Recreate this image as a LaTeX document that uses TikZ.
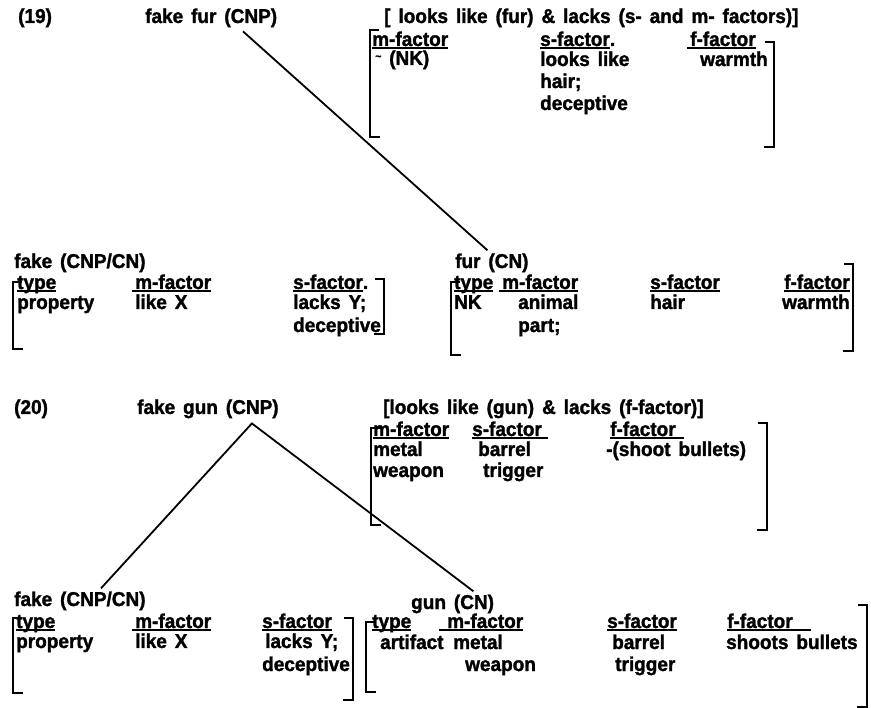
\documentclass[tikz,border=0pt]{standalone}
\usepackage{fontspec}
\setmainfont{Liberation Sans}[FakeStretch=0.95, WordSpace=1.5, BoldFeatures={FakeBold=1.5}]
\usetikzlibrary{calc}
\newcommand\ufx[3]{\setbox0\hbox{#3}\hskip-#1\rlap{\rule[-3pt]{\dimexpr\wd0+#1+#2\relax}{1.8pt}}\hskip#1\box0}
\newcommand\ufac[1]{\ufx{0pt}{0pt}{#1}}
\newcommand\lbrk[3]{\draw[brk] (#1+9,#2) -- (#1,#2) -- (#1,#3) -- (#1+10,#3);}
\newcommand\rbrk[3]{\draw[brk] (#1-9,#2) -- (#1,#2) -- (#1,#3) -- (#1-10,#3);}
\tikzset{
  txt/.style={anchor=base west, inner sep=0pt, font=\fontsize{20}{22}\selectfont\bfseries},
  brk/.style={line width=1.6pt},
  tree/.style={line width=1.8pt}
}
\begin{document}
\begin{tikzpicture}[x=1pt,y=-1pt]
\useasboundingbox[fill=white] (0,0) rectangle (871,708);
% ---------- (19)
\node[txt] (n19) at (18,23) {(19)};
\node[txt] (fakefur) at (145,23) {fake fur (CNP)};
\node[txt] (hdr19) at (384,23) {[ looks like (fur) \& lacks (s- and m- factors)]};
\lbrk{370}{30}{137}
\rbrk{774}{42}{147}
\node[txt] (tm1) at (372,46) {\ufac{m-factor}};
\node[txt] (tm2) at (375,65) {{\fontsize{11}{11}\selectfont\raisebox{5pt}{\textasciitilde}} (NK)};
\node[txt] (ts1) at (540,46) {\ufac{s-factor}.};
\node[txt] (ts2) at (540,66) {looks like};
\node[txt] (ts3) at (540,88) {hair;};
\node[txt] (ts4) at (540,110) {deceptive};
\node[txt] (tf1) at (690,46) {\ufx{3pt}{0pt}{f-factor}};
\node[txt] (tf2) at (700,66) {warmth};
% fake (CNP/CN) box 19
\node[txt] (fake19) at (14,268) {fake (CNP/CN)};
\lbrk{13}{282}{349}
\rbrk{384}{279}{334}
\node[txt] (f19type) at (17,289) {\ufac{type}};
\node[txt] (f19prop) at (17,309) {property};
\node[txt] (f19m) at (135,289) {\ufx{3pt}{0pt}{m-factor}};
\node[txt] (f19like) at (135,309) {like X};
\node[txt] (f19s) at (293,289) {\ufac{s-factor}.};
\node[txt] (f19lacks) at (293,309) {lacks Y;};
\node[txt] (f19dec) at (293,332) {deceptive};
% fur (CN) box
\node[txt] (fur19) at (455,268) {fur (CN)};
\lbrk{451}{282}{355}
\rbrk{853}{264}{351}
\node[txt] (u19type) at (454,289) {\ufac{type}};
\node[txt] (u19nk) at (454,309) {NK};
\node[txt] (u19m) at (502,289) {\ufx{3pt}{0pt}{m-factor}};
\node[txt] (u19anim) at (518,309) {animal};
\node[txt] (u19part) at (518,332) {part;};
\node[txt] (u19s) at (650,289) {\ufac{s-factor}};
\node[txt] (u19hair) at (650,309) {hair};
\node[txt] (u19f) at (784,289) {\ufac{f-factor}};
\node[txt] (u19warm) at (782,309) {warmth};
\draw[tree] ($(fakefur.south west)!0.74!(fakefur.south east)+(0,4)$) -- ($(fur19.north west)!0.44!(fur19.north east)+(0,-3)$);
% ---------- (20)
\node[txt] (n20) at (14,414) {(20)};
\node[txt] (fakegun) at (137,414) {fake gun (CNP)};
\node[txt] (hdr20) at (383,414) {[looks like (gun) \& lacks (f-factor)]};
\lbrk{371}{428}{525}
\rbrk{767}{423}{530}
\node[txt] (g20m) at (373,436) {\ufac{m-factor}};
\node[txt] (g20metal) at (373,456) {metal};
\node[txt] (g20weapon) at (373,477) {weapon};
\node[txt] (g20s) at (472,436) {\ufx{0pt}{6pt}{s-factor}};
\node[txt] (g20barrel) at (478,456) {barrel};
\node[txt] (g20trig) at (483,477) {trigger};
\node[txt] (g20f) at (610,436) {\ufx{0pt}{8pt}{f-factor}};
\node[txt] (g20shoot) at (606,456) {-(shoot bullets)};
% fake box 20
\node[txt] (fake20) at (14,606) {fake (CNP/CN)};
\lbrk{13}{618}{693}
\rbrk{353}{618}{700}
\node[txt] (h20type) at (16,628) {\ufac{type}};
\node[txt] (h20prop) at (16,648) {property};
\node[txt] (h20m) at (135,628) {\ufx{3pt}{0pt}{m-factor}};
\node[txt] (h20like) at (135,648) {like X};
\node[txt] (h20s) at (262,628) {\ufac{s-factor}};
\node[txt] (h20lacks) at (265,648) {lacks Y;};
\node[txt] (h20dec) at (262,671) {deceptive};
% gun box 20
\node[txt] (gun20) at (411,609) {gun (CN)};
\lbrk{366}{622}{692}
\rbrk{867}{605}{707}
\node[txt] (k20type) at (372,628) {\ufac{type}};
\node[txt] (k20art) at (380,649) {artifact};
\node[txt] (k20m) at (447,628) {\ufx{8pt}{0pt}{m-factor}};
\node[txt] (k20metal) at (453,649) {metal};
\node[txt] (k20weapon) at (465,671) {weapon};
\node[txt] (k20s) at (607,628) {\ufac{s-factor}};
\node[txt] (k20barrel) at (612,649) {barrel};
\node[txt] (k20trig) at (615,671) {trigger};
\node[txt] (k20f) at (727,628) {\ufx{0pt}{18pt}{f-factor}};
\node[txt] (k20shoot) at (726,649) {shoots bullets};
\coordinate (apex) at ($(fakegun.south west)!0.81!(fakegun.south east)+(0,5)$);
\draw[tree] ($(fake20.north west)!0.66!(fake20.north east)+(0,-3)$) -- (apex) -- ($(gun20.north west)!0.75!(gun20.north east)+(0,-3)$);
\end{tikzpicture}
\end{document}
